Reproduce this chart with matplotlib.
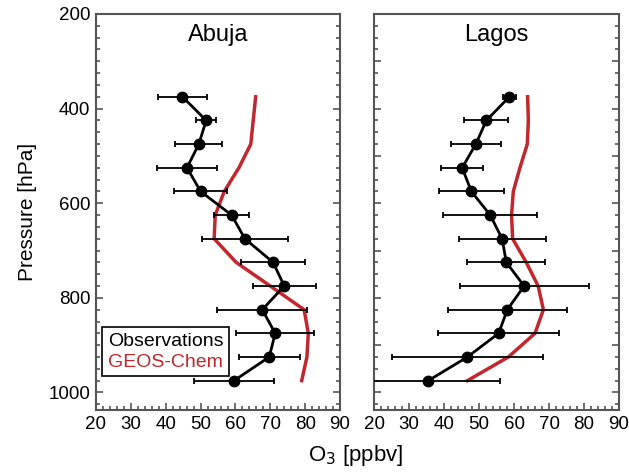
import matplotlib
matplotlib.use("Agg")
import matplotlib.pyplot as plt
from matplotlib.ticker import MultipleLocator

plt.rcParams['font.family'] = ['Liberation Sans', 'DejaVu Sans']

# pressure levels (hPa) of the ozonesonde bins
pressure = [375, 425, 475, 525, 575, 625, 675, 725, 775, 825, 875, 925, 975]

# Abuja
abuja_obs = [44.8, 51.6, 49.5, 46.1, 50.0, 58.9, 62.7, 70.8, 74.0, 67.7, 71.4, 69.7, 59.6]
abuja_err = [7.1, 2.9, 6.7, 8.6, 7.6, 5.0, 12.4, 9.2, 9.0, 12.9, 11.1, 8.7, 11.4]
abuja_gc = [65.8, 65.1, 64.4, 61.0, 56.8, 54.2, 53.9, 60.2, 70.0, 79.7, 80.9, 80.5, 79.0]

# Lagos
lagos_obs = [58.7, 52.1, 49.1, 45.2, 47.8, 53.2, 56.6, 57.8, 62.9, 58.1, 55.6, 46.7, 35.5]
lagos_err = [1.8, 6.3, 7.2, 6.0, 9.2, 13.4, 12.4, 11.1, 18.4, 17.1, 17.4, 21.5, 20.6]
lagos_gc = [63.9, 64.1, 63.8, 61.7, 59.8, 59.3, 59.6, 63.5, 66.9, 68.4, 66.0, 58.4, 46.7]

sites = ["Abuja", "Lagos"]
red = "#c1272d"
spine_col = "#555555"

fig = plt.figure(figsize=(6.29, 4.72), dpi=100)
ax1 = fig.add_axes([0.1526, 0.1314, 0.388, 0.839])
ax2 = fig.add_axes([0.5946, 0.1314, 0.3895, 0.839])

panels = [(ax1, abuja_obs, abuja_err, abuja_gc), (ax2, lagos_obs, lagos_err, lagos_gc)]
for i, (ax, obs, err, gc) in enumerate(panels):
    ax.plot(gc, pressure, color=red, lw=2.5, zorder=2)
    ax.errorbar(obs, pressure, xerr=err, fmt='o-', color='black', ms=7.5,
                lw=2, elinewidth=1.3, capsize=2.5, capthick=1.3, zorder=3)
    ax.set_xlim(20, 90)
    ax.set_ylim(1037, 200)
    ax.xaxis.set_major_locator(MultipleLocator(10))
    ax.xaxis.set_minor_locator(MultipleLocator(2))
    ax.yaxis.set_major_locator(MultipleLocator(100))
    ax.yaxis.set_minor_locator(MultipleLocator(25))
    ax.tick_params(which='both', direction='in', top=False, right=True,
                   color=spine_col, width=1.2)
    ax.tick_params(which='major', length=5, labelsize=13.5, pad=4)
    ax.tick_params(which='minor', length=3)
    for s in ax.spines.values():
        s.set_color(spine_col)
        s.set_linewidth(1.5)
    ax.text(0.5, 0.975, sites[i], transform=ax.transAxes, ha='center', va='top',
            fontsize=17)
    if i == 0:
        ax.set_yticks([200, 400, 600, 800, 1000])
        ax.set_yticks(range(200, 1040, 25), minor=True)
        ax.set_ylabel("Pressure [hPa]", fontsize=15, labelpad=8)
    else:
        ax.tick_params(axis='y', which='both', labelleft=False)

# legend as coloured text in a box
leg = ax1.legend(handles=[plt.Line2D([], [], color='none'), plt.Line2D([], [], color='none')],
                 labels=["Observations", "GEOS-Chem"], loc='lower left',
                 bbox_to_anchor=(0.0, 0.07), handlelength=0, handletextpad=0,
                 fancybox=False, edgecolor='black', framealpha=1, borderpad=0.3,
                 borderaxespad=0.3, labelspacing=0.15, prop={'size': 14})
leg.get_frame().set_linewidth(1.2)
leg.get_texts()[1].set_color(red)

fig.text(0.565, 0.035, "O$_3$ [ppbv]", ha='center', va='center', fontsize=16)

fig.savefig("out.png", dpi=100)
